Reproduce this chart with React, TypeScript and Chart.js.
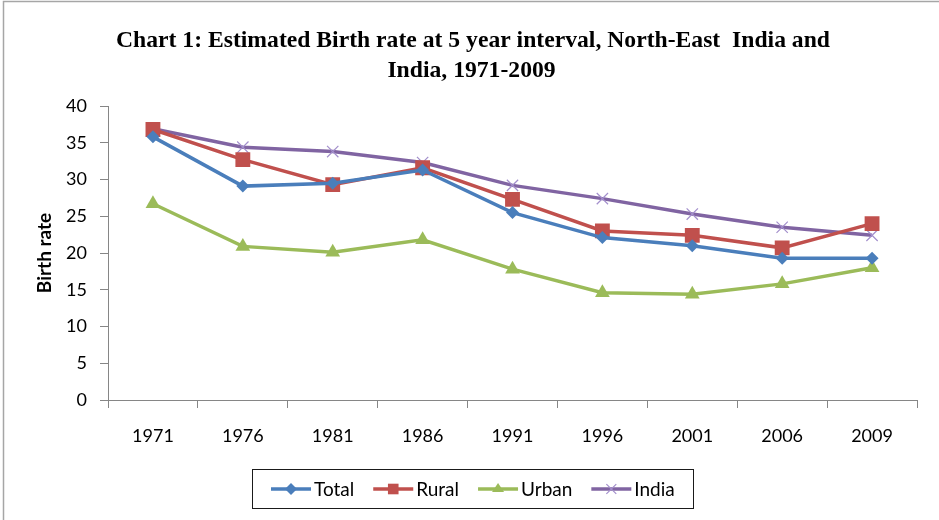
import React, { useEffect, useRef } from "react";
import { Chart, registerables } from "chart.js";

Chart.register(...registerables);

const years = ["1971", "1976", "1981", "1986", "1991", "1996", "2001", "2006", "2009"];
const totalRate = [35.8, 29.1, 29.5, 31.3, 25.5, 22.1, 21.0, 19.3, 19.3];
const ruralRate = [36.8, 32.7, 29.3, 31.6, 27.3, 23.0, 22.4, 20.7, 24.0];
const urbanRate = [26.7, 20.9, 20.1, 21.8, 17.8, 14.6, 14.4, 15.8, 18.0];
const indiaRate = [36.9, 34.4, 33.8, 32.3, 29.2, 27.4, 25.3, 23.5, 22.4];
const titleLines = ["Chart 1: Estimated Birth rate at 5 year interval, North-East  India and", "India, 1971-2009"];
const yAxisTitle = "Birth rate";

const BLUE = "#4a7ebb";
const RED = "#c0504d";
const GREEN = "#9bbb59";
const PURPLE = "#8064a2";
const CROSS = "#a38fcc";
const AXIS = "#868686";
const SANS = "Lato, 'Open Sans', sans-serif";

const framePlugin = {
  id: "frame",
  beforeDraw(chart: any) {
    const ctx = chart.ctx;
    ctx.save();
    ctx.fillStyle = "#ffffff";
    ctx.fillRect(0, 0, chart.width, chart.height);
    ctx.strokeStyle = "#a6a6a6";
    ctx.lineWidth = 1.5;
    ctx.beginPath();
    ctx.moveTo(3.5, chart.height + 5);
    ctx.lineTo(3.5, 1.5);
    ctx.lineTo(chart.width + 5, 1.5);
    ctx.stroke();
    ctx.restore();
  },
};

const titlePlugin = {
  id: "customTitle",
  afterDraw(chart: any) {
    const ctx = chart.ctx;
    ctx.save();
    ctx.font = "bold 24px 'Liberation Serif', 'Times New Roman', serif";
    ctx.fillStyle = "#000";
    ctx.textBaseline = "alphabetic";
    ctx.textAlign = "center";
    const w1 = ctx.measureText(titleLines[0]).width;
    const s = 714 / w1;
    const cxs = [473, 471.5];
    const ys = [47, 77];
    titleLines.forEach((line, i) => {
      ctx.save();
      ctx.translate(cxs[i], ys[i]);
      ctx.scale(s, 1);
      ctx.fillText(line, 0, 0);
      ctx.restore();
    });
    ctx.restore();
  },
};

function drawMarker(ctx: CanvasRenderingContext2D, style: string, x: number, y: number, r: number) {
  ctx.beginPath();
  if (style === "rect") {
    const s = Math.SQRT1_2 * r;
    ctx.rect(x - s, y - s, 2 * s, 2 * s);
    ctx.fill();
  } else if (style === "rectRot") {
    ctx.moveTo(x - r, y);
    ctx.lineTo(x, y - r);
    ctx.lineTo(x + r, y);
    ctx.lineTo(x, y + r);
    ctx.closePath();
    ctx.fill();
  } else if (style === "triangle") {
    const h = r * 1.5;
    ctx.moveTo(x, y - h * 0.66);
    ctx.lineTo(x + r, y + h * 0.34);
    ctx.lineTo(x - r, y + h * 0.34);
    ctx.closePath();
    ctx.fill();
  } else {
    const d = r * Math.SQRT1_2;
    ctx.moveTo(x - d, y - d);
    ctx.lineTo(x + d, y + d);
    ctx.moveTo(x + d, y - d);
    ctx.lineTo(x - d, y + d);
    ctx.stroke();
  }
}

const legendPlugin = {
  id: "customLegend",
  afterDraw(chart: any) {
    const ctx = chart.ctx;
    const box = { x: 252.5, y: 469.5, w: 441, h: 39 };
    ctx.save();
    ctx.strokeStyle = "#1a1a1a";
    ctx.lineWidth = 1;
    ctx.strokeRect(box.x, box.y, box.w, box.h);
    ctx.font = `19px ${SANS}`;
    ctx.textBaseline = "middle";
    ctx.textAlign = "left";
    const cy = box.y + box.h / 2;
    let x = 271;
    chart.data.datasets.forEach((ds: any) => {
      ctx.strokeStyle = ds.borderColor;
      ctx.lineWidth = 3.5;
      ctx.beginPath();
      ctx.moveTo(x, cy);
      ctx.lineTo(x + 40, cy);
      ctx.stroke();
      const style = ds.pointStyle;
      const r = style === "rect" ? 7.5 : style === "crossRot" ? 7 : 6;
      ctx.save();
      ctx.fillStyle = ds.pointBackgroundColor;
      ctx.strokeStyle = ds.pointBorderColor;
      ctx.lineWidth = ds.pointBorderWidth;
      drawMarker(ctx, style, x + 20, cy, r);
      ctx.restore();
      ctx.fillStyle = "#000";
      ctx.fillText(ds.label, x + 43, cy + 1);
      x += 43 + ctx.measureText(ds.label).width + 19;
    });
    ctx.restore();
  },
};

export default function App() {
  const ref = useRef<HTMLCanvasElement | null>(null);

  useEffect(() => {
    if (!ref.current) return;
    const mk = (label: string, data: number[], color: string, style: string, radius: number, extra: any = {}) => ({
      label,
      data,
      borderColor: color,
      backgroundColor: color,
      borderWidth: 3.5,
      tension: 0,
      pointStyle: style,
      pointRadius: radius,
      pointHoverRadius: radius,
      pointBackgroundColor: color,
      pointBorderColor: color,
      pointBorderWidth: 0,
      ...extra,
    });
    const chart = new Chart(ref.current, {
      type: "line",
      data: {
        labels: years,
        datasets: [
          mk("Total", totalRate, BLUE, "rectRot", 6.5),
          mk("Rural", ruralRate, RED, "rect", 10.5),
          mk("Urban", urbanRate, GREEN, "triangle", 8.5),
          mk("India", indiaRate, PURPLE, "crossRot", 8, { pointBorderColor: CROSS, pointBackgroundColor: CROSS, pointBorderWidth: 1.2 }),
        ],
      },
      options: {
        responsive: false,
        animation: false,
        events: [],
        layout: { padding: { left: 0, top: 106, right: 22, bottom: 70 } },
        plugins: {
          legend: { display: false },
          title: { display: false },
          tooltip: { enabled: false },
        },
        scales: {
          x: {
            type: "category",
            offset: true,
            grid: { offset: true, drawOnChartArea: false, drawTicks: true, tickLength: 8, color: AXIS, lineWidth: 1 },
            border: { color: AXIS, width: 1 },
            ticks: { color: "#000", font: { family: SANS, size: 18 }, padding: 17, maxRotation: 0 },
            afterFit: (s: any) => { s.height = 50; },
          },
          y: {
            min: 0,
            max: 40,
            ticks: { stepSize: 5, color: "#000", font: { family: SANS, size: 18 }, padding: 13 },
            grid: { drawOnChartArea: false, drawTicks: true, tickLength: 8, color: AXIS, lineWidth: 1 },
            border: { color: AXIS, width: 1 },
            title: {
              display: true,
              text: yAxisTitle,
              color: "#000",
              font: { family: SANS, size: 19, weight: "bold" },
              padding: { top: 33, bottom: 0 },
            },
            afterFit: (s: any) => { s.width = 108; },
          },
        },
      } as any,
      plugins: [framePlugin, titlePlugin, legendPlugin],
    });
    return () => chart.destroy();
  }, []);

  return (
    <div style={{ position: "absolute", left: 0, top: 0, width: 939, height: 520, background: "#fff" }}>
      <canvas ref={ref} width={939} height={520} style={{ display: "block" }} />
    </div>
  );
}
